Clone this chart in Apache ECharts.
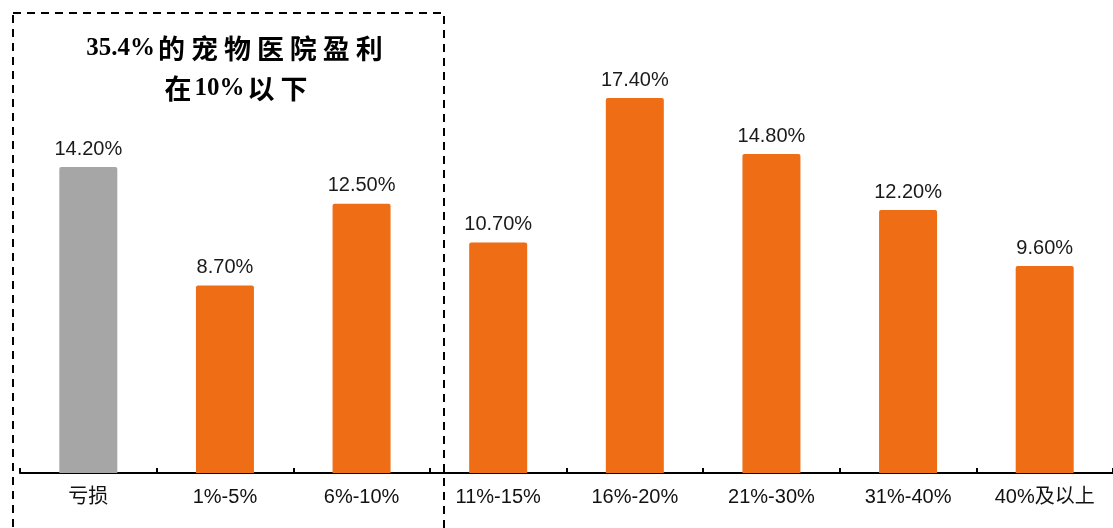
<!DOCTYPE html>
<html>
<head>
<meta charset="utf-8">
<script src="https://cdn.jsdelivr.net/npm/echarts@6/dist/echarts.min.js"></script>
<style>
  html, body { margin: 0; padding: 0; background: #fff; }
  #chart { width: 1113px; height: 528px; }
</style>
</head>
<body>
<div id="chart"></div>
<script>
// Profit-margin buckets of pet hospitals and the share of hospitals in each
const categories = ['亏损', '1%-5%', '6%-10%', '11%-15%', '16%-20%', '21%-30%', '31%-40%', '40%及以上'];
const shares = [14.2, 8.7, 12.5, 10.7, 17.4, 14.8, 12.2, 9.6];
const calloutLines = ['35.4%的宠物医院盈利', '在10%以下'];

const ORANGE = '#EE6D15';
const GRAY = '#A6A6A6';

const chart = echarts.init(document.getElementById('chart'), null, { renderer: 'canvas' });

// Latin runs use a serif face; each CJK character gets its own padded run for wider tracking
function toRich(line) {
  const parts = line.match(/[\u0000-\u00ff]+|[^\u0000-\u00ff]/g) || [];
  return parts.map(p => (/^[\u0000-\u00ff]+$/.test(p) ? '{a|' + p + '}' : '{c|' + p + '}')).join('');
}

chart.setOption({
  animation: false,
  backgroundColor: '#ffffff',
  grid: { left: 20, right: 0, top: 42, bottom: 55, containLabel: false },
  xAxis: {
    type: 'category',
    data: categories,
    axisLine: { show: true, lineStyle: { color: '#000', width: 2 } },
    axisTick: { show: true, inside: true, length: 5, lineStyle: { color: '#000', width: 2 } },
    axisLabel: {
      color: '#111',
      fontSize: 20,
      fontFamily: 'Liberation Sans, Arial, "Noto Sans CJK SC", sans-serif',
      margin: 14,
      interval: 0
    }
  },
  yAxis: {
    type: 'value',
    min: 0,
    max: 20,
    show: false,
    splitLine: { show: false }
  },
  series: [{
    type: 'bar',
    data: shares,
    barWidth: 58,
    itemStyle: {
      borderRadius: [2, 2, 0, 0],
      color: p => (p.dataIndex === 0 ? GRAY : ORANGE)
    },
    label: {
      show: true,
      position: 'top',
      distance: 8,
      color: '#1a1a1a',
      fontSize: 20,
      fontFamily: 'Liberation Sans, Arial, sans-serif',
      formatter: p => p.value.toFixed(2) + '%'
    }
  }],
  graphic: [
    {
      type: 'rect',
      shape: { x: 13, y: 13, width: 431, height: 540 },
      style: { fill: 'none', stroke: '#000', lineWidth: 2, lineDash: [8, 6] },
      silent: true
    },
    {
      type: 'text',
      x: 236,
      y: 29,
      style: {
        text: calloutLines.map(toRich).join('\n'),
        align: 'center',
        verticalAlign: 'top',
        lineHeight: 40,
        rich: {
          a: { fontFamily: '"Liberation Serif", "Times New Roman", serif', fontWeight: 'bold', fontSize: 25, fill: '#000', lineHeight: 40 },
          c: { fontFamily: '"Noto Sans CJK SC", sans-serif', fontWeight: 'bold', fontSize: 27, fill: '#000', lineHeight: 40, padding: [0, 3] }
        }
      }
    }
  ]
});
</script>
</body>
</html>
